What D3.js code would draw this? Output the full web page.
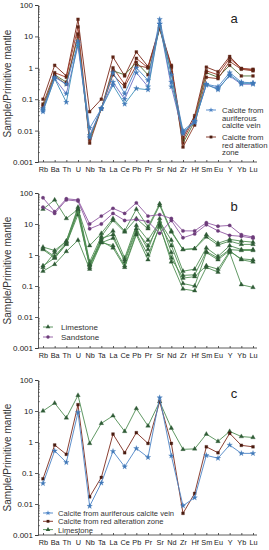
<!DOCTYPE html>
<html>
<head>
<meta charset="utf-8">
<script src="https://cdn.jsdelivr.net/npm/d3@7"></script>
<style>
body{margin:0;background:#fff}
svg{display:block;font-family:"Liberation Sans",Arial,sans-serif}
</style>
</head>
<body>
<script>
// spider diagram data, primitive-mantle normalised
var elements = ["Rb","Ba","Th","U","Nb","Ta","La","Ce","Pb","Pr","Sr","Nd","Zr","Hf","Sm","Eu","Y","Yb","Lu"];
var yTicks = [100, 10, 1, 0.1, 0.01, 0.001];
var yTickLabels = ["100", "10", "1", "0.1", "0.01", "0.001"];

// panel a
var veinA = [
  [0.05,0.5,0.3,6,0.012,0.05,0.7,0.15,1.0,0.4,35,0.6,0.01,0.02,0.3,0.25,0.7,0.35,0.33],
  [0.045,0.45,0.15,5,0.007,0.05,0.35,0.1,0.7,0.25,25,0.25,0.008,0.02,0.28,0.22,0.55,0.3,0.3],
  [0.04,0.45,0.08,7,0.006,0.05,0.28,0.07,0.22,0.2,25,0.35,0.009,0.018,0.3,0.2,0.6,0.32,0.32]
];
var zoneA = [
  [0.1,1.2,0.55,35,0.04,0.1,2.2,0.55,3.2,1.1,20,1.2,0.006,0.03,1.05,0.75,2.3,0.95,0.9],
  [0.07,0.7,0.5,20,0.006,0.05,1.0,0.3,2.0,1.0,18,1.0,0.005,0.025,0.8,0.6,2.0,0.95,0.85],
  [0.06,0.6,0.35,10,0.005,0.05,0.8,0.6,1.5,0.6,18,0.7,0.004,0.02,0.7,0.5,1.2,0.55,0.55],
  [0.05,0.55,0.3,12,0.004,0.05,0.6,0.25,1.2,1.0,18,1.1,0.003,0.015,0.5,0.45,1.6,0.9,0.8]
];

// panel b
var limestoneB = [
  [30,60,15,30,2,5,15,6,30,8,45,6,1.5,1.6,4.5,2.4,3.2,2.8,2.6],
  [1.8,1.4,2.8,35,0.6,4,13,5.5,15,7,40,5.5,1.5,1.6,3.8,2.1,2.8,2.2,2.2],
  [1.6,0.9,2.5,25,0.5,3,6,0.8,9,3,12,3,0.3,0.35,1.7,0.9,2.0,1.5,1.5],
  [0.45,0.8,2.3,20,0.45,3.5,4.5,0.6,6,2,10,2,0.22,0.23,1.3,0.8,1.5,1.4,1.4],
  [0.3,0.5,1.3,3,0.35,2.5,2,0.45,5,1,8,0.8,0.18,0.2,0.45,0.35,1.3,0.75,0.7],
  [1.5,0.8,2.2,28,0.4,2.8,1.7,0.4,4.5,0.7,9,0.6,0.08,0.07,0.4,0.28,1.2,0.11,0.09],
  [0.4,1.2,2.8,30,0.5,2.5,3.5,0.7,7,1.5,15,1.2,0.12,0.1,1.2,0.7,1.4,0.7,0.6]
];
var sandstoneB = [
  [70,25,65,60,10,18,32,22,48,18,20,15,6,6,11,8.5,9,4.5,3.8],
  [35,22,60,55,7,10,22,13,14,12,5,13,3.6,4.8,9.5,6,4.3,4,3.5]
];

// panel c (averages)
var veinC = [0.046,0.52,0.22,9,0.0085,0.048,0.5,0.16,0.62,0.32,27,0.36,0.0088,0.016,0.37,0.3,0.8,0.43,0.43];
var zoneC = [0.065,0.8,0.4,16,0.017,0.072,1.8,0.45,2.0,0.9,20,0.9,0.005,0.022,0.7,0.45,1.9,0.78,0.7];
var limeC = [10,18,6,32,0.9,4,7,2.2,12,3.3,20,2.8,0.58,0.6,1.8,1.05,2.2,1.5,1.4];

var W = 269, H = 550;
var svg = d3.select("body").append("svg").attr("width", W).attr("height", H);

var blue = "#4d84c6", red = "#7d2a1c", green = "#4f8d52", purple = "#915aa3";
var sym = {
  star: d3.symbol().type(d3.symbolStar).size(9),
  square: d3.symbol().type(d3.symbolSquare).size(8),
  tri: d3.symbol().type(d3.symbolTriangle).size(9),
  circle: d3.symbol().type(d3.symbolCircle).size(9)
};

function panel(top, bottom, letter, series, legend) {
  var x = d3.scalePoint().domain(elements).range([43, 253]);
  var y = d3.scaleLog().domain([0.001, 100]).range([bottom, top]);
  var g = svg.append("g");

  // axes
  var ya = g.append("g").attr("transform", "translate(38,0)")
    .call(d3.axisLeft(y).tickValues(yTicks).tickFormat(function(d, i){ return yTickLabels[i]; })
      .tickSize(3).tickPadding(2));
  var minors = [];
  yTicks.slice(1).forEach(function(t){ for (var k = 2; k < 10; k++) minors.push(t * k); });
  g.append("g").selectAll("line").data(minors).enter().append("line")
    .attr("x1", 38).attr("x2", 40).attr("y1", y).attr("y2", y)
    .attr("stroke", "#444").attr("stroke-width", 0.6);
  var xa = g.append("g").attr("transform", "translate(0," + bottom + ")")
    .call(d3.axisBottom(x).tickSize(-2).tickPadding(5));
  xa.select(".domain").attr("d", "M38,0H257");
  [ya, xa].forEach(function(a){
    a.selectAll("path,line").attr("stroke", "#333").attr("stroke-width", 0.8);
    a.selectAll("text").attr("font-size", 8).attr("fill", "#222")
      .attr("font-family", "'Liberation Sans',Arial,sans-serif");
  });
  xa.selectAll("text").attr("font-size", 7.3);

  g.append("text").attr("transform", "translate(11," + ((top + bottom) / 2) + ") rotate(-90)")
    .attr("text-anchor", "middle").attr("font-size", 10).attr("fill", "#333")
    .text("Sample/Primitive mantle");
  g.append("text").attr("x", 234).attr("y", top + 18).attr("text-anchor", "middle")
    .attr("font-size", 13).attr("fill", "#222").text(letter);

  var line = d3.line().x(function(d, i){ return x(elements[i]); }).y(function(d){ return y(d); });
  series.forEach(function(s){
    g.append("path").datum(s.values).attr("d", line).attr("fill", "none")
      .attr("stroke", s.color).attr("stroke-width", 0.9);
    g.append("g").selectAll("path").data(s.values).enter().append("path")
      .attr("d", sym[s.mark])
      .attr("transform", function(d, i){ return "translate(" + x(elements[i]) + "," + y(d) + ")"; })
      .attr("fill", s.fill || s.color).attr("stroke", s.fill || s.color).attr("stroke-width", 0.3);
  });

  legend.items.forEach(function(it, j){
    var ly = legend.y + j * legend.step;
    var lg = g.append("g");
    lg.append("line").attr("x1", legend.x - 5).attr("x2", legend.x + 5)
      .attr("y1", ly).attr("y2", ly).attr("stroke", it.color).attr("stroke-width", 0.9);
    lg.append("path").attr("d", sym[it.mark]).attr("transform", "translate(" + legend.x + "," + ly + ")")
      .attr("fill", it.fill || it.color);
    it.lines.forEach(function(t, k){
      lg.append("text").attr("x", legend.tx).attr("y", ly + 3 + k * 7.5)
        .attr("font-size", legend.fs).attr("fill", "#333").text(t);
    });
  });
}

// panel a
var seriesA = [];
var zoneColors = ["#7a2818", "#a33a28", "#4e6f36", "#8e3a25"];
zoneA.forEach(function(v, i){ seriesA.push({values: v, color: zoneColors[i], mark: "square", fill: "#5e2416"}); });
var veinColors = ["#4a86c8", "#6f6fc4", "#3d90ba"];
veinA.forEach(function(v, i){ seriesA.push({values: v, color: veinColors[i], mark: "star", fill: "#3f78b8"}); });
panel(5, 162, "a", seriesA, {x: 211, tx: 222, y: 110, step: 27, fs: 7.8, items: [
  {color: blue, mark: "star", lines: ["Calcite from", "auriferous", "calcite vein"]},
  {color: red, mark: "square", fill: "#4a1c10", lines: ["Calcite from", "red alteration", "zone"]}
]});

// panel b
var seriesB = [];
limestoneB.forEach(function(v){ seriesB.push({values: v, color: green, mark: "tri", fill: "#2f5b36"}); });
sandstoneB.forEach(function(v){ seriesB.push({values: v, color: purple, mark: "circle", fill: "#6d3c7a"}); });
panel(193, 348, "b", seriesB, {x: 48, tx: 61, y: 327, step: 10, fs: 8, items: [
  {color: green, mark: "tri", fill: "#2f5b36", lines: ["Limestone"]},
  {color: purple, mark: "circle", fill: "#6d3c7a", lines: ["Sandstone"]}
]});

// panel c
panel(380, 535, "c", [
  {values: limeC, color: green, mark: "tri", fill: "#2f5b36"},
  {values: zoneC, color: red, mark: "square", fill: "#4a1c10"},
  {values: veinC, color: blue, mark: "star", fill: "#3f78b8"}
], {x: 48, tx: 58, y: 513, step: 8.3, fs: 7.6, items: [
  {color: blue, mark: "star", lines: ["Calcite from auriferous calcite vein"]},
  {color: red, mark: "square", fill: "#4a1c10", lines: ["Calcite from red alteration zone"]},
  {color: green, mark: "tri", fill: "#2f5b36", lines: ["Limestone"]}
]});
</script>
</body>
</html>
